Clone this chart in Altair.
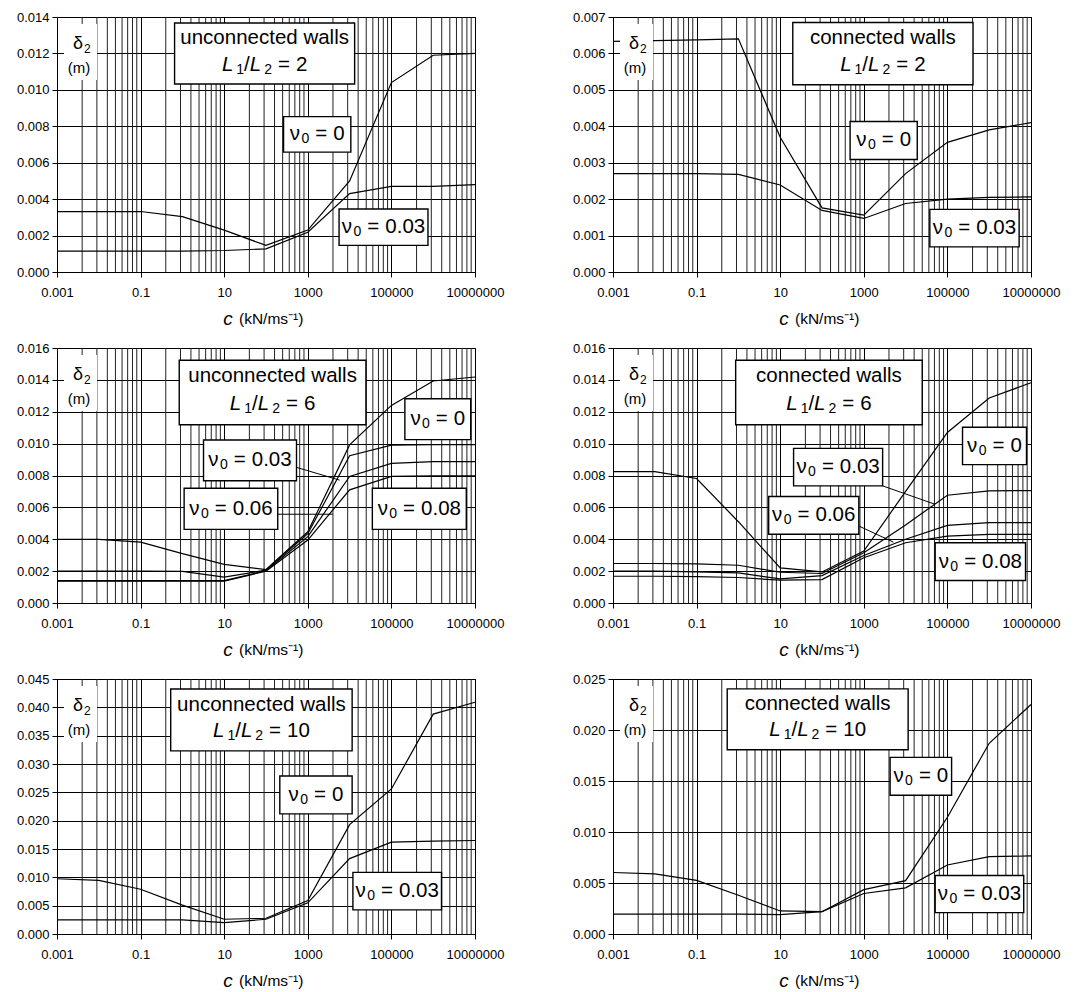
import altair as alt
import pandas as pd

# ---------------- data ----------------
C = [0.001, 0.01, 0.1, 1, 10, 100, 1000, 10000, 100000, 1000000, 10000000]

P1_NU0 = [0.00332, 0.00332, 0.00332, 0.00304, 0.0023, 0.00146, 0.0023, 0.0050, 0.0104, 0.0119, 0.0120]
P1_NU003 = [0.00115, 0.00115, 0.00115, 0.00115, 0.00118, 0.00127, 0.00218, 0.0043, 0.0047, 0.0047, 0.0048]

P2_NU0 = [0.00633, 0.00635, 0.00637, 0.0064, 0.0037, 0.00176, 0.00156, 0.0027, 0.00356, 0.0039, 0.0041]
P2_NU003 = [0.0027, 0.0027, 0.0027, 0.00268, 0.00239, 0.00169, 0.00147, 0.00188, 0.0020, 0.00205, 0.00206]

P3_NU0 = [0.00399, 0.00399, 0.00382, 0.0031, 0.00242, 0.0021, 0.00447, 0.00992, 0.0124, 0.01393, 0.01418]
P3_NU003 = [0.0020, 0.0020, 0.0020, 0.00198, 0.00162, 0.00206, 0.00435, 0.00924, 0.0099, 0.00994, 0.00994]
P3_NU006 = [0.00141, 0.00141, 0.00141, 0.00141, 0.00141, 0.00203, 0.00416, 0.00794, 0.00876, 0.00887, 0.00887]
P3_NU008 = [0.00137, 0.00137, 0.00137, 0.00137, 0.00137, 0.0020, 0.00395, 0.0071, 0.00794, 0.00798, 0.00798]

P4_NU0 = [0.00824, 0.00824, 0.00781, 0.0051, 0.0022, 0.00195, 0.00326, 0.0070, 0.0107, 0.01286, 0.01382]
P4_NU003 = [0.00248, 0.00248, 0.00245, 0.00237, 0.00193, 0.00185, 0.00315, 0.0049, 0.00676, 0.00704, 0.00705]
P4_NU006 = [0.0020, 0.0020, 0.00195, 0.00189, 0.00151, 0.00172, 0.00298, 0.0040, 0.00487, 0.00504, 0.00504]
P4_NU008 = [0.00168, 0.00168, 0.00165, 0.0016, 0.00143, 0.00147, 0.00284, 0.00378, 0.0042, 0.0043, 0.0043]

P5_NU0 = [0.00975, 0.00945, 0.0079, 0.0051, 0.0026, 0.00278, 0.0059, 0.0193, 0.0256, 0.0388, 0.0409]
P5_NU003 = [0.00248, 0.00248, 0.00248, 0.00248, 0.0020, 0.0026, 0.0055, 0.0133, 0.0162, 0.0164, 0.0165]

P6_NU0 = [0.00603, 0.0059, 0.00526, 0.0038, 0.00226, 0.00219, 0.00435, 0.00523, 0.01145, 0.0187, 0.0225]
P6_NU003 = [0.00194, 0.00194, 0.00194, 0.00194, 0.0019, 0.00219, 0.00397, 0.00452, 0.00677, 0.00758, 0.00765]

X_TICKS = [0.001, 0.1, 10, 1000, 100000, 10000000]

# ---------------- style ----------------
FONT = "Liberation Sans"
W, H = 418, 255
BOX_FS = 20.5
SUB_FS = 14

EM = {"0": .556, "1": .556, "2": .556, "3": .556, "4": .556, "5": .556, "6": .556,
      "7": .556, "8": .556, "9": .556, ".": .278, " ": .278, "=": .584, "/": .278,
      "L": .556, "ν": .52}


def text_width(s, size):
    return sum(EM.get(ch, .556) for ch in s) * size


# annotation layout (data coordinates of boxes: c1, c2, d_top, d_bottom)
PANELS = [
    dict(ymax=0.014, ystep=0.002, series=[P1_NU0, P1_NU003], title="unconnected walls", ratio="2",
         main=(0.65, 13200, 0.01367, 0.01032),
         labels=[("0", (263, 10700, 0.00853, 0.00658)), ("0.03", (5600, 7.5e5, 0.00346, 0.00146))],
         leaders=[]),
    dict(ymax=0.007, ystep=0.001, series=[P2_NU0, P2_NU003], title="connected walls", ratio="2",
         main=(20, 4.1e5, 0.00685, 0.00514),
         labels=[("0", (470, 1.9e4, 0.00413, 0.00309)), ("0.03", (3.8e4, 5.2e6, 0.00172, 0.00069))],
         leaders=[]),
    dict(ymax=0.016, ystep=0.002, series=[P3_NU0, P3_NU003, P3_NU006, P3_NU008],
         title="unconnected walls", ratio="6",
         main=(0.84, 2.46e4, 0.01523, 0.01118),
         labels=[("0", (2.1e5, 7.9e6, 0.01282, 0.01025)), ("0.03", (3.2, 537, 0.01023, 0.00767)),
                 ("0.06", (1.1, 191, 0.0072, 0.00462)), ("0.08", (3.5e4, 6.2e6, 0.0072, 0.00462))],
         leaders=[(537, 5750, 0.00851, 0.00771), (191, 3980, 0.00557, 0.00557)]),
    dict(ymax=0.016, ystep=0.002, series=[P4_NU0, P4_NU003, P4_NU006, P4_NU008],
         title="connected walls", ratio="6",
         main=(0.86, 2.5e4, 0.01523, 0.01118),
         labels=[("0", (2.3e5, 7.8e6, 0.01103, 0.00868)), ("0.03", (20.9, 2820, 0.0097, 0.00735)),
                 ("0.06", (5.3, 760, 0.00668, 0.00431)), ("0.08", (5.1e4, 7.4e6, 0.00378, 0.00141))],
         leaders=[(2820, 5.0e4, 0.00735, 0.0062), (760, 5100, 0.00483, 0.00382)]),
    dict(ymax=0.045, ystep=0.005, series=[P5_NU0, P5_NU003], title="unconnected walls", ratio="10",
         main=(0.525, 1.15e4, 0.04323, 0.03231),
         labels=[("0", (214, 1.15e4, 0.02788, 0.0212)), ("0.03", (1.2e4, 1.58e6, 0.01087, 0.00425))],
         leaders=[]),
    dict(ymax=0.025, ystep=0.005, series=[P6_NU0, P6_NU003], title="connected walls", ratio="10",
         main=(0.54, 1.15e4, 0.02403, 0.01806),
         labels=[("0", (4260, 1.26e5, 0.01732, 0.01361)), ("0.03", (5.1e4, 6.7e6, 0.00574, 0.0021))],
         leaders=[]),
]


def minor_grid():
    vals = []
    for k in range(5):
        base = 10 ** (-3 + 2 * k)
        for j in range(2, 10):
            vals.append(base * j * j)
    return vals


def make_panel(p):
    ymax, ystep = p["ymax"], p["ystep"]
    n = int(round(ymax / ystep))
    yticks = [round(i * ystep, 4) for i in range(n + 1)]
    xscale = alt.Scale(type="log", domain=[0.001, 10000000], nice=False)
    yscale = alt.Scale(domain=[0, ymax], nice=False, zero=True)
    xaxis = alt.Axis(values=X_TICKS, labelExpr="datum.value >= 1 ? format(datum.value, 'd') : format(datum.value, '~g')",
                     grid=True, gridColor="black", gridOpacity=1, gridWidth=1, title=None,
                     labelFont=FONT, labelFontSize=13, labelColor="black", labelPadding=9,
                     labelFlush=False, labelOverlap=False, tickColor="black", tickSize=5,
                     domainColor="black")
    yaxis = alt.Axis(values=yticks, format=".3f", grid=True, gridColor="black", gridOpacity=1,
                     gridWidth=1, title=None, labelFont=FONT, labelFontSize=13, labelColor="black",
                     labelPadding=3, tickColor="black", tickSize=5, domainColor="black", labelFlush=False)
    X = alt.X("c:Q", scale=xscale, axis=xaxis)
    Y = alt.Y("d:Q", scale=yscale, axis=yaxis)

    layers = []
    # minor vertical gridlines
    layers.append(alt.Chart(pd.DataFrame({"c": minor_grid(), "d": [0.0] * 40}))
                  .mark_rule(color="#222222", strokeWidth=1).encode(x=X))
    # curves
    rows = []
    for si, s in enumerate(p["series"]):
        for c, d in zip(C, s):
            rows.append({"c": c, "d": d, "s": si})
    layers.append(alt.Chart(pd.DataFrame(rows)).mark_line(color="black", strokeWidth=1.2)
                  .encode(x=X, y=Y, detail="s:N", order="c:Q"))
    # leader lines
    if p["leaders"]:
        ld = pd.DataFrame([{"c": a, "c2": b, "d": e, "d2": f} for a, b, e, f in p["leaders"]])
        layers.append(alt.Chart(ld).mark_rule(color="black", strokeWidth=1)
                      .encode(x=X, x2="c2:Q", y=Y, y2="d2:Q"))
    # boxes
    boxes = [p["main"]] + [b for _, b in p["labels"]]
    bd = pd.DataFrame([{"c": a, "c2": b, "d": e, "d2": f} for a, b, e, f in boxes])
    layers.append(alt.Chart(bd).mark_rect(fill="white", stroke="black", strokeWidth=1.4)
                  .encode(x=X, x2="c2:Q", y=Y, y2="d2:Q"))

    def pieces_at(c, d, pieces):
        total = 0
        offs = []
        for t, size, it, dy, gap in pieces:
            total += gap
            offs.append(total)
            total += text_width(t, size)
        df = pd.DataFrame({"c": [c], "d": [d]})
        out = []
        for (t, size, it, dy, gap), off in zip(pieces, offs):
            out.append(alt.Chart(df).mark_text(text=t, font=FONT, fontSize=size,
                                               fontStyle="italic" if it else "normal",
                                               align="left", baseline="middle",
                                               dx=off - total / 2, dy=dy, color="black")
                       .encode(x=X, y=Y))
        return out

    # main box text
    c1, c2, dt, db = p["main"]
    cm = (c1 * c2) ** 0.5
    y1 = dt - 0.25 * (dt - db)
    y2 = dt - 0.68 * (dt - db)
    layers.append(alt.Chart(pd.DataFrame({"c": [cm], "d": [y1]}))
                  .mark_text(text=p["title"], font=FONT, fontSize=BOX_FS, color="black",
                             align="center", baseline="middle").encode(x=X, y=Y))
    layers += pieces_at(cm, y2, [("L", BOX_FS, True, 0, 0), ("1", SUB_FS, False, 5, 3),
                                 ("/", BOX_FS, False, 0, 0), ("L", BOX_FS, True, 0, 0),
                                 ("2", SUB_FS, False, 5, 3), ("=", BOX_FS, False, 0, 6),
                                 (p["ratio"], BOX_FS, False, 0, 6)])
    # nu labels
    for val, (a, b, e, f) in p["labels"]:
        layers += pieces_at((a * b) ** 0.5, (e + f) / 2,
                            [("ν", BOX_FS, False, 0, 0), ("0", SUB_FS, False, 5, 1),
                             ("=", BOX_FS, False, 0, 6), (val, BOX_FS, False, 0, 6)])

    # y-axis title inside plot
    one = pd.DataFrame({"k": [0]})
    layers.append(alt.Chart(one).mark_rect(fill="white", stroke=None)
                  .encode(x=alt.value(7), x2=alt.value(40), y=alt.value(7), y2=alt.value(63)))
    layers.append(alt.Chart(one).mark_text(text="δ", font=FONT, fontSize=18, color="black",
                                           align="center", baseline="middle")
                  .encode(x=alt.value(21), y=alt.value(27)))
    layers.append(alt.Chart(one).mark_text(text="2", font=FONT, fontSize=12, color="black",
                                           align="left", baseline="middle")
                  .encode(x=alt.value(27), y=alt.value(32)))
    layers.append(alt.Chart(one).mark_text(text="(m)", font=FONT, fontSize=15, color="black",
                                           align="center", baseline="middle")
                  .encode(x=alt.value(22), y=alt.value(51)))
    # x-axis title below plot
    layers.append(alt.Chart(one).mark_text(text="c", font=FONT, fontSize=19, fontStyle="italic",
                                           color="black", align="center", baseline="middle")
                  .encode(x=alt.value(171), y=alt.value(H + 47)))
    layers.append(alt.Chart(one).mark_text(text="(kN/ms⁻¹)", font=FONT, fontSize=15.5,
                                           color="black", align="left", baseline="middle")
                  .encode(x=alt.value(182), y=alt.value(H + 47)))

    return alt.layer(*layers).properties(width=W, height=H)


panels = [make_panel(p) for p in PANELS]
rows = [alt.hconcat(panels[i], panels[i + 1], spacing=66) for i in (0, 2, 4)]
chart = (alt.vconcat(*rows, spacing=11)
         .properties(padding={"left": 15, "top": 10, "right": 5, "bottom": 5})
         .configure_view(stroke="black", strokeWidth=1)
         .resolve_scale())

chart.save("out.html", embed_options={"renderer": "svg", "actions": False})
